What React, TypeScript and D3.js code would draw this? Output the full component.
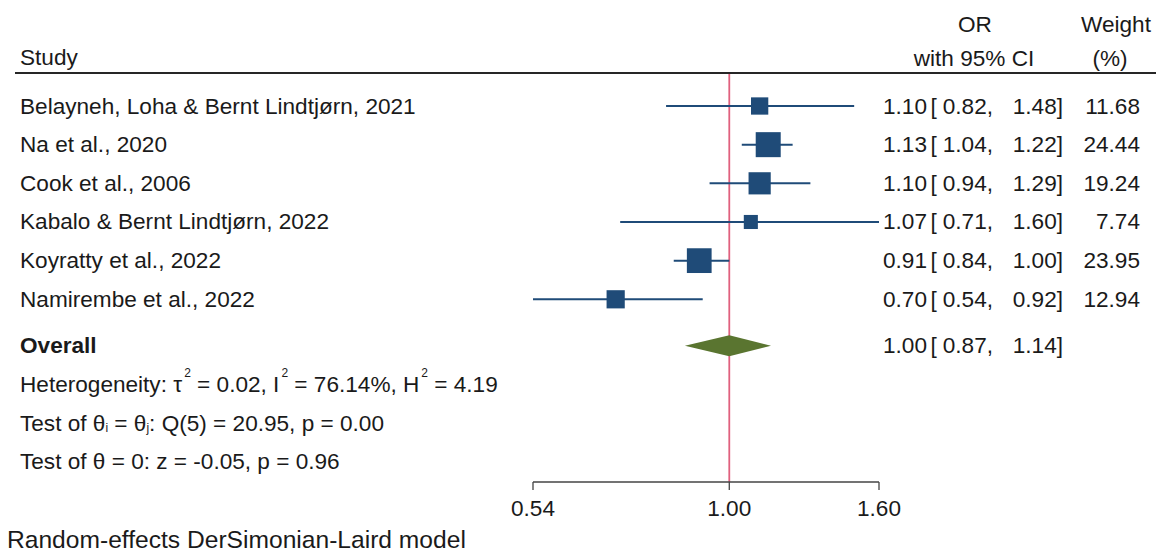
import React from 'react';
import * as d3 from 'd3';

// forest plot data
const studies = [
  'Belayneh, Loha & Bernt Lindtjørn, 2021',
  'Na et al., 2020',
  'Cook et al., 2006',
  'Kabalo & Bernt Lindtjørn, 2022',
  'Koyratty et al., 2022',
  'Namirembe et al., 2022',
];
const oddsRatios = [1.10, 1.13, 1.10, 1.07, 0.91, 0.70];
const ciLow = [0.82, 1.04, 0.94, 0.71, 0.84, 0.54];
const ciHigh = [1.48, 1.22, 1.29, 1.60, 1.00, 0.92];
const weights = [11.68, 24.44, 19.24, 7.74, 23.95, 12.94];
const overall = [1.00, 0.87, 1.14];
const axisTicks = [0.54, 1.00, 1.60];

const W = 1156;
const H = 554;
const FONT = '"Liberation Sans", Arial, sans-serif';
const FS = 22.6;
const BLUE = '#1f4b78';
const GREEN = '#5a7530';
const RED = '#e0607e';

const fmt = d3.format('.2f');

// column anchors for the OR / CI / weight text
const col = { or: 927, open: 930.5, lo: 993, hi: 1063, wt: 1140 };

const App = () => {
  const x = d3.scaleLog().domain([0.54, 1.6]).range([533, 879]);
  const y = d3.scaleLinear().domain([0, 5]).range([106, 299.3]);
  const size = d3.scaleSqrt().domain([0, 24.44]).range([0, 25]);
  const axisY = 482;
  const headerY = 73;
  const oy = y(6.2);
  const diamondH = 10.5;

  const textProps = { fontFamily: FONT, fontSize: FS, fill: '#1a1a1a', dominantBaseline: 'central' as const };

  const ciCols = (cy: number, or: number, lo: number, hi: number) => (
    <>
      <text {...textProps} x={col.or} y={cy} textAnchor="end">{fmt(or)}</text>
      <text {...textProps} x={col.open} y={cy}>[</text>
      <text {...textProps} x={col.lo} y={cy} textAnchor="end">{fmt(lo)},</text>
      <text {...textProps} x={col.hi} y={cy} textAnchor="end">{fmt(hi)}]</text>
    </>
  );

  return (
    <svg width={W} height={H} style={{ position: 'absolute', left: 0, top: 0, background: '#fff' }}>
      {/* header */}
      <text {...textProps} x={20} y={57}>Study</text>
      <text {...textProps} x={975} y={24} textAnchor="middle">OR</text>
      <text {...textProps} x={974} y={58} textAnchor="middle">with 95% CI</text>
      <text {...textProps} x={1116} y={24} textAnchor="middle">Weight</text>
      <text {...textProps} x={1110} y={58} textAnchor="middle">(%)</text>
      <line x1={15} x2={W} y1={headerY} y2={headerY} stroke="#262626" strokeWidth={2.2} />

      {/* null line */}
      <line x1={x(1)} x2={x(1)} y1={headerY + 1} y2={axisY} stroke={RED} strokeWidth={1.8} />

      {/* studies */}
      {studies.map((s, i) => {
        const cy = y(i);
        const b = size(weights[i]);
        return (
          <g key={s}>
            <text {...textProps} x={20} y={cy}>{s}</text>
            <line x1={x(ciLow[i])} x2={x(ciHigh[i])} y1={cy} y2={cy} stroke={BLUE} strokeWidth={2} />
            <rect x={x(oddsRatios[i]) - b / 2} y={cy - b / 2} width={b} height={b} fill={BLUE} />
            {ciCols(cy, oddsRatios[i], ciLow[i], ciHigh[i])}
            <text {...textProps} x={col.wt} y={cy} textAnchor="end">{fmt(weights[i])}</text>
          </g>
        );
      })}

      {/* overall */}
      <text {...textProps} x={20} y={oy} fontWeight="bold">Overall</text>
      <path
        d={`M${x(overall[1])},${oy} L${x(overall[0])},${oy - diamondH} L${x(overall[2])},${oy} L${x(overall[0])},${oy + diamondH} Z`}
        fill={GREEN}
      />
      {ciCols(oy, overall[0], overall[1], overall[2])}

      {/* stats */}
      <text {...textProps} x={20} y={y(7.2)}>
        Heterogeneity: τ<tspan dx={2} dy={-11} fontSize={12}>2</tspan>
        <tspan dy={11}> = 0.02, I</tspan><tspan dx={2} dy={-11} fontSize={12}>2</tspan>
        <tspan dy={11}> = 76.14%, H</tspan><tspan dx={2} dy={-11} fontSize={12}>2</tspan>
        <tspan dy={11}> = 4.19</tspan>
      </text>
      <text {...textProps} x={20} y={y(8.2)}>
        Test of θ<tspan dy={5} fontSize={12}>i</tspan>
        <tspan dy={-5}> = θ</tspan><tspan dy={5} fontSize={12}>j</tspan>
        <tspan dy={-5}>: Q(5) = 20.95, p = 0.00</tspan>
      </text>
      <text {...textProps} x={20} y={y(9.2)}>Test of θ = 0: z = -0.05, p = 0.96</text>

      {/* axis */}
      <line x1={x(0.54)} x2={x(1.6)} y1={axisY} y2={axisY} stroke="#444" strokeWidth={1.3} />
      {axisTicks.map(t => (
        <g key={t}>
          <line x1={x(t)} x2={x(t)} y1={axisY} y2={axisY + 8} stroke="#444" strokeWidth={1.3} />
          <text {...textProps} x={x(t)} y={axisY + 26} textAnchor="middle">{fmt(t)}</text>
        </g>
      ))}

      <text {...textProps} x={7} y={539} fontSize={24.6}>Random-effects DerSimonian-Laird model</text>
    </svg>
  );
};

export default App;
